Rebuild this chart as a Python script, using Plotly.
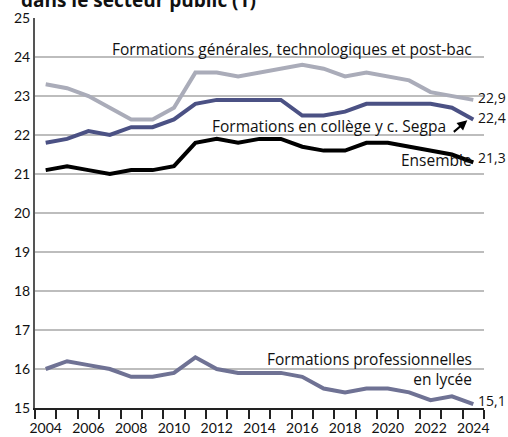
import plotly.graph_objects as go

years = list(range(2004, 2025))
generales = [23.3, 23.2, 23.0, 22.7, 22.4, 22.4, 22.7, 23.6, 23.6, 23.5, 23.6,
             23.7, 23.8, 23.7, 23.5, 23.6, 23.5, 23.4, 23.1, 23.0, 22.9]
college = [21.8, 21.9, 22.1, 22.0, 22.2, 22.2, 22.4, 22.8, 22.9, 22.9, 22.9,
           22.9, 22.5, 22.5, 22.6, 22.8, 22.8, 22.8, 22.8, 22.7, 22.4]
ensemble = [21.1, 21.2, 21.1, 21.0, 21.1, 21.1, 21.2, 21.8, 21.9, 21.8, 21.9,
            21.9, 21.7, 21.6, 21.6, 21.8, 21.8, 21.7, 21.6, 21.5, 21.3]
pro = [16.0, 16.2, 16.1, 16.0, 15.8, 15.8, 15.9, 16.3, 16.0, 15.9, 15.9,
       15.9, 15.8, 15.5, 15.4, 15.5, 15.5, 15.4, 15.2, 15.3, 15.1]
x_ticks = list(range(2004, 2025, 2))
y_ticks = list(range(15, 26))

LBL = "Open Sans"
TICK = "Lato"

fig = go.Figure()
series = [
    (generales, "#AAACB9"),
    (college, "#4B5184"),
    (ensemble, "#000000"),
    (pro, "#6F7294"),
]
for vals, col in series:
    fig.add_trace(go.Scatter(x=years, y=vals, mode="lines",
                             line=dict(color=col, width=4), showlegend=False,
                             hoverinfo="skip", cliponaxis=False))

def lab(x, y, text, anchor="right", size=15.5):
    fig.add_annotation(x=x, y=y, text=text, xanchor=anchor, yanchor="middle",
                       showarrow=False, align=anchor, borderpad=0,
                       font=dict(family=LBL, size=size, color="#111"))

lab(2024.0, 24.2, "Formations générales, technologiques et post-bac")
lab(2022.75, 22.23, "Formations en collège y c. Segpa")
lab(2024.0, 21.37, "Ensemble")
lab(2024.0, 16.0, "Formations professionnelles<br>en lycée")
for v, yy in [(generales[-1], 22.96), (college[-1], 22.44), (ensemble[-1], 21.42), (pro[-1], 15.19)]:
    lab(2024.18, yy, f"{v:.1f}".replace(".", ","), anchor="left", size=14)

fig.add_annotation(x=2023.72, y=22.38, ax=-15, ay=13, text="", showarrow=True,
                   arrowhead=2, arrowsize=1, arrowwidth=2, arrowcolor="#000")

fig.add_annotation(xref="paper", yref="paper", x=0, y=1, xanchor="left",
                   yanchor="bottom", xshift=-16, yshift=3,
                   text="<b>dans le secteur public (1)</b>", showarrow=False,
                   font=dict(family=LBL, size=19, color="#111"))

fig.update_layout(
    width=508, height=437,
    margin=dict(l=35, r=24, t=18, b=29, autoexpand=False),
    paper_bgcolor="white", plot_bgcolor="white",
    xaxis=dict(range=[2003.5, 2024.5], tickvals=x_ticks, ticks="outside",
               ticklen=6, tickcolor="rgba(0,0,0,0)", automargin=False,
               showgrid=False, showline=True, linecolor="#222", linewidth=2,
               tickfont=dict(family=TICK, size=14, color="#111"),
               minor=dict(tick0=2003.5, dtick=1, ticks="outside", ticklen=9,
                          tickwidth=1.5, tickcolor="#222", showgrid=False),
               zeroline=False, fixedrange=True),
    yaxis=dict(range=[15, 25], tickvals=y_ticks, ticks="", automargin=False,
               showgrid=True, gridcolor="#BDBDBD", gridwidth=1.5,
               showline=True, linecolor="#555", linewidth=2,
               tickfont=dict(family=TICK, size=14, color="#111"),
               zeroline=False, fixedrange=True),
)

fig.write_html("out.html", config={"displayModeBar": False},
               post_script="document.body.style.margin='0';"
                           "document.body.style.overflow='hidden';")
